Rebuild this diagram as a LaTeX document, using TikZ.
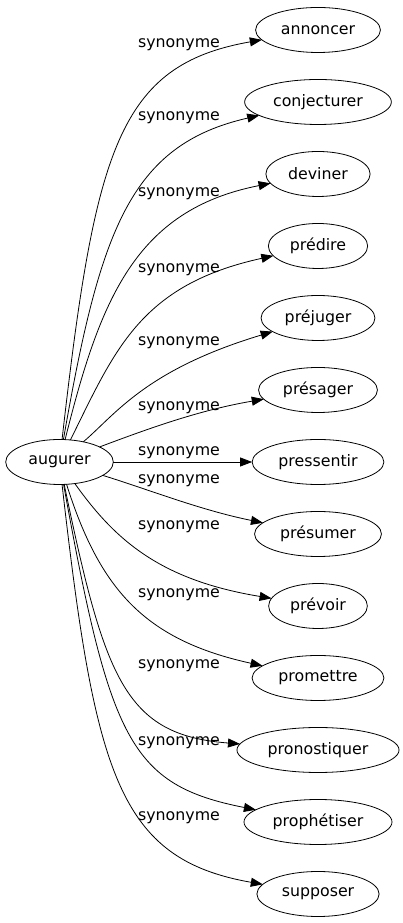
\documentclass[tikz,border=0pt]{standalone}
\usepackage{fontspec}
\setmainfont{DejaVu Sans}
\usetikzlibrary{arrows.meta, positioning, shapes.geometric}
\tikzset{
  ->, % every connector is directed
  >={Triangle[length=12pt,width=9pt]}, % filled head
  node distance=27pt, % gap between the word ellipses
  word/.style={draw, ellipse, minimum height=45pt, inner xsep=7pt,
    inner ysep=0pt, outer sep=0pt}, % a word
  syn/.style={inner sep=0pt}, % a connector label
}

\begin{document}
\begin{tikzpicture}[x=1pt, y=1pt, line width=0.8pt,
    font=\fontsize{15.8}{19}\selectfont]
    \useasboundingbox (0,0) rectangle (403,923);

    \node[word] (augurer) at (59.5,461) {augurer};
    \node[word] (annoncer) at (318,893) {annoncer};
    \node[word, below=of annoncer] (conjecturer) {conjecturer};
    \node[word, below=of conjecturer] (deviner) {deviner};
    \node[word, below=of deviner] (predire) {prédire};
    \node[word, below=of predire] (prejuger) {préjuger};
    \node[word, below=of prejuger] (presager) {présager};
    \node[word, below=of presager] (pressentir) {pressentir};
    \node[word, below=of pressentir] (presumer) {présumer};
    \node[word, below=of presumer] (prevoir) {prévoir};
    \node[word, below=of prevoir] (promettre) {promettre};
    \node[word, below=of promettre] (pronostiquer) {pronostiquer};
    \node[word, below=of pronostiquer] (prophetiser) {prophétiser};
    \node[word, below=of prophetiser] (supposer) {supposer};

    % labels
    \node[syn] (syn_0) at (179,878) {synonyme};
    \node[syn] (syn_1) at (179,805) {synonyme};
    \node[syn] (syn_2) at (179,729) {synonyme};
    \node[syn] (syn_3) at (179,653) {synonyme};
    \node[syn] (syn_4) at (179,580) {synonyme};
    \node[syn] (syn_5) at (179,515) {synonyme};
    \node[syn] (syn_6) at (179,470) {synonyme};
    \node[syn] (syn_7) at (179,442) {synonyme};
    \node[syn] (syn_8) at (179,396) {synonyme};
    \node[syn] (syn_9) at (179,328) {synonyme};
    \node[syn] (syn_10) at (179,257) {synonyme};
    \node[syn] (syn_11) at (179,180) {synonyme};
    \node[syn] (syn_12) at (179,105) {synonyme};

    \draw (augurer) .. controls (95,773) and (118,858) .. (annoncer);
    \draw (augurer) .. controls (100,693) and (130,778) .. (conjecturer);
    \draw (augurer) .. controls (100,623) and (135,713) .. (deviner);
    \draw (augurer) .. controls (115,573) and (140,638) .. (predire);
    \draw (augurer) .. controls (115,508) and (145,553) .. (prejuger);
    \draw (augurer) .. controls (150,495) and (200,513) .. (presager);
    \draw (augurer) -- (pressentir);
    \draw (augurer) .. controls (150,433) and (200,413) .. (presumer);
    \draw (augurer) .. controls (115,383) and (160,343) .. (prevoir);
    \draw (augurer) .. controls (100,333) and (145,283) .. (promettre);
    \draw (augurer) .. controls (105,243) and (125,188) .. (pronostiquer);
    \draw (augurer) .. controls (110,183) and (130,138) .. (prophetiser);
    \draw (augurer) .. controls (95,149) and (118,64) .. (supposer);
  \end{tikzpicture}
\end{document}
